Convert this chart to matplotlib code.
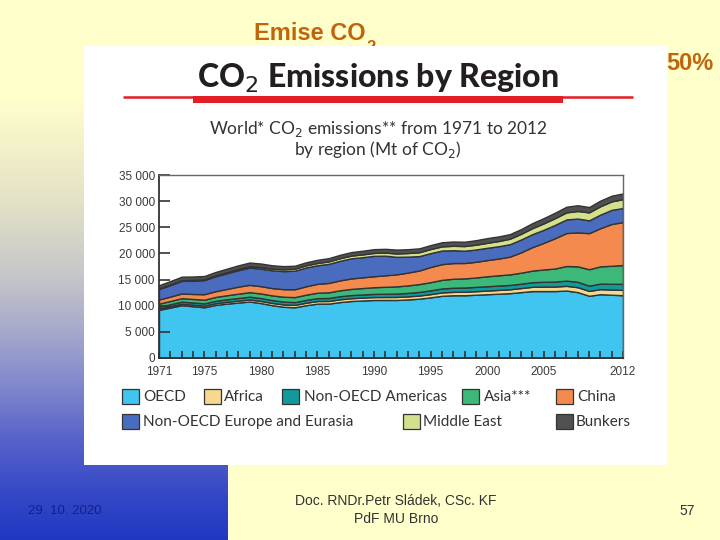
import matplotlib.pyplot as plt
import numpy as np
from matplotlib.patches import Rectangle
from matplotlib.colors import LinearSegmentedColormap
from matplotlib.ticker import FuncFormatter

# World CO2 emissions by region, Mt of CO2
years = list(range(1971, 2013))
oecd = [9200, 9650, 10100, 9900, 9700, 10150, 10400, 10600, 10800, 10500,
        10100, 9800, 9700, 10100, 10400, 10400, 10700, 10900, 11000, 11100,
        11100, 11100, 11200, 11350, 11600, 11900, 12000, 12000, 12100, 12200,
        12300, 12400, 12600, 12800, 12800, 12800, 12900, 12600, 11900, 12200,
        12100, 12000]
africa = [250, 265, 280, 295, 310, 330, 350, 370, 390, 410,
          430, 450, 460, 480, 500, 510, 530, 540, 550, 560,
          570, 580, 590, 600, 620, 640, 650, 670, 680, 700,
          720, 740, 780, 820, 860, 870, 900, 940, 930, 970,
          990, 1030]
non_oecd_americas = [350, 370, 400, 420, 440, 460, 480, 510, 540, 550,
                     540, 540, 530, 540, 550, 570, 590, 600, 600, 600,
                     620, 640, 660, 690, 720, 760, 790, 810, 820, 830,
                     840, 830, 840, 880, 920, 950, 1000, 1030, 1000, 1060,
                     1100, 1150]
asia = [600, 620, 660, 680, 700, 740, 780, 820, 860, 880,
        900, 930, 960, 1000, 1040, 1080, 1130, 1180, 1230, 1280,
        1330, 1380, 1440, 1500, 1570, 1650, 1720, 1740, 1800, 1900,
        1960, 2020, 2100, 2220, 2350, 2500, 2800, 2950, 3150, 3300,
        3450, 3600]
china = [800, 850, 900, 950, 1050, 1100, 1200, 1350, 1400, 1400,
         1400, 1450, 1500, 1600, 1700, 1800, 1900, 2000, 2050, 2100,
         2200, 2300, 2450, 2600, 2900, 3000, 3000, 2950, 3000, 3100,
         3200, 3400, 3900, 4500, 5100, 5800, 6300, 6500, 6900, 7300,
         8000, 8200]
non_oecd_europe = [2000, 2200, 2400, 2550, 2700, 2850, 3000, 3150, 3300, 3350,
                   3400, 3450, 3550, 3600, 3550, 3650, 3750, 3850, 3850, 3900,
                   3750, 3350, 3050, 2750, 2650, 2600, 2450, 2350, 2350, 2350,
                   2350, 2380, 2450, 2480, 2500, 2550, 2600, 2650, 2450, 2600,
                   2700, 2700]
middle_east = [100, 110, 130, 140, 150, 180, 210, 240, 270, 300,
               320, 350, 380, 410, 440, 470, 500, 520, 540, 560,
               590, 640, 690, 740, 780, 800, 850, 890, 920, 950,
               1000, 1040, 1090, 1150, 1230, 1290, 1350, 1450, 1520, 1600,
               1620, 1700]
bunkers = [620, 650, 680, 650, 630, 650, 670, 680, 700, 680,
           640, 600, 570, 580, 600, 620, 640, 670, 700, 720,
           720, 740, 730, 740, 760, 790, 820, 830, 860, 900,
           880, 880, 900, 960, 1000, 1040, 1080, 1100, 1020, 1080,
           1080, 1100]

series = [oecd, africa, non_oecd_americas, asia, china, non_oecd_europe, middle_east, bunkers]
names = ['OECD', 'Africa', 'Non-OECD Americas', 'Asia***', 'China',
         'Non-OECD Europe and Eurasia', 'Middle East', 'Bunkers']
colors = ['#40c4f0', '#f6d98e', '#12999c', '#3cb878', '#f58a4e', '#4a6cbf', '#d3e08c', '#505050']
xtick_years = [1971, 1975, 1980, 1985, 1990, 1995, 2000, 2005, 2012]

narrow = ['Liberation Sans Narrow', 'Liberation Sans', 'DejaVu Sans']
title_color = '#c0650c'

fig = plt.figure(figsize=(7.2, 5.4), dpi=100)
fig.patch.set_facecolor('#ffffcc')

# slide background, drawn in pixel coordinates
bg = fig.add_axes([0, 0, 1, 1])
bg.set_xlim(0, 720)
bg.set_ylim(540, 0)
bg.axis('off')
bg.patch.set_alpha(0)

grad_cmap = LinearSegmentedColormap.from_list('slide', [
    (0.0, '#ffffcc'), (0.18, '#ffffcc'), (0.37, '#e4e2c6'), (0.5, '#c8c9c9'),
    (0.62, '#a4a7cc'), (0.72, '#7f86cc'), (0.82, '#5561c9'), (0.92, '#3447c6'),
    (1.0, '#1f38c4')])
grad = np.linspace(0, 1, 540)[:, None]
bg.imshow(grad, extent=[0, 228, 540, 0], cmap=grad_cmap, aspect='auto', zorder=0)

# slide title: the subscript hides behind the pasted picture
t = bg.text(254, 40, 'Emise CO', fontsize=17, fontweight='bold', color=title_color,
            family='Liberation Sans', ha='left', va='baseline', zorder=1)
renderer = fig.canvas.get_renderer()
bb = t.get_window_extent(renderer)
x_end = bb.x1 * 720 / fig.bbox.width
bg.text(x_end + 1, 52, '2', fontsize=12, fontweight='bold', color=title_color,
        family='Liberation Sans', ha='left', va='baseline', zorder=1)
bg.add_patch(Rectangle((84, 46), 583, 419, facecolor='white', edgecolor='none', zorder=2))
bg.text(666, 64, '50%', fontsize=17, fontweight='bold', color=title_color,
        family='Liberation Sans', ha='left', va='center', zorder=3)

# picture title and subtitle
bg.text(378, 78, 'CO$_2$ Emissions by Region', fontsize=23, fontweight='black',
        color='#231f20', family='Lato', ha='center', va='center', zorder=3)
bg.plot([123, 633], [96.5, 96.5], color='#e31e24', lw=1.8, zorder=3, solid_capstyle='butt')
bg.add_patch(Rectangle((193, 96), 370, 7, facecolor='#e31e24', edgecolor='none', zorder=3))
bg.text(378, 129, 'World* CO$_2$ emissions** from 1971 to 2012', fontsize=12.5,
        color='#333333', family='Lato', ha='center', va='center', zorder=3)
bg.text(378, 149, 'by region (Mt of CO$_2$)', fontsize=12.5,
        color='#333333', family='Lato', ha='center', va='center', zorder=3)

# legend, laid out as in the source picture
legend_slots = [(122, 397, 143), (204, 397, 224), (282, 397, 304), (462, 397, 484),
                (556, 397, 577), (122, 422, 143), (403, 422, 423), (556, 422, 576)]
for (px, py, tx), name, c in zip(legend_slots, names, colors):
    bg.add_patch(Rectangle((px, py - 8), 17, 15, facecolor=c, edgecolor='#333333',
                           lw=0.9, zorder=3))
    bg.text(tx, py, name, fontsize=11, color='#333333', family='Lato',
            ha='left', va='center', zorder=3)

# footer
bg.text(65, 511, '29. 10. 2020', fontsize=9.5, color='#14208a', family=narrow,
        ha='center', va='center', zorder=3)
bg.text(396, 501, 'Doc. RNDr.Petr Sládek, CSc. KF', fontsize=10, color='#333333',
        family=narrow, ha='center', va='center', zorder=3)
bg.text(396, 519, 'PdF MU Brno', fontsize=10, color='#333333',
        family=narrow, ha='center', va='center', zorder=3)
bg.text(687, 511, '57', fontsize=10, color='#333333', family=narrow,
        ha='center', va='center', zorder=3)

# the chart itself
ax = fig.add_axes([159 / 720, 1 - 358 / 540, 464 / 720, 183 / 540])
ax.stackplot(years, *series, colors=colors, edgecolor='#333333', linewidth=1.0)
ax.set_xlim(1971, 2012)
ax.set_ylim(0, 35000)
ax.set_yticks(range(0, 35001, 5000))
ax.yaxis.set_major_formatter(FuncFormatter(lambda v, pos: f'{int(v):,}'.replace(',', ' ')))
ax.set_xticks(xtick_years)
ax.set_xticks(years, minor=True)
ax.tick_params(axis='y', direction='in', length=8, width=1.2, color='#333333',
               labelsize=8.5, labelcolor='#3a3a3a', pad=3)
ax.tick_params(axis='x', which='both', direction='in', length=5, width=1.2,
               color='#333333', labelsize=8.5, labelcolor='#3a3a3a', pad=6)
for lab in ax.get_xticklabels() + ax.get_yticklabels():
    lab.set_family(narrow)
for side in ['left', 'bottom']:
    ax.spines[side].set_color('#333333')
    ax.spines[side].set_linewidth(1.3)
for side in ['top', 'right']:
    ax.spines[side].set_color('#666666')
    ax.spines[side].set_linewidth(1.0)

fig.savefig('out.png', dpi=100, facecolor=fig.get_facecolor())
